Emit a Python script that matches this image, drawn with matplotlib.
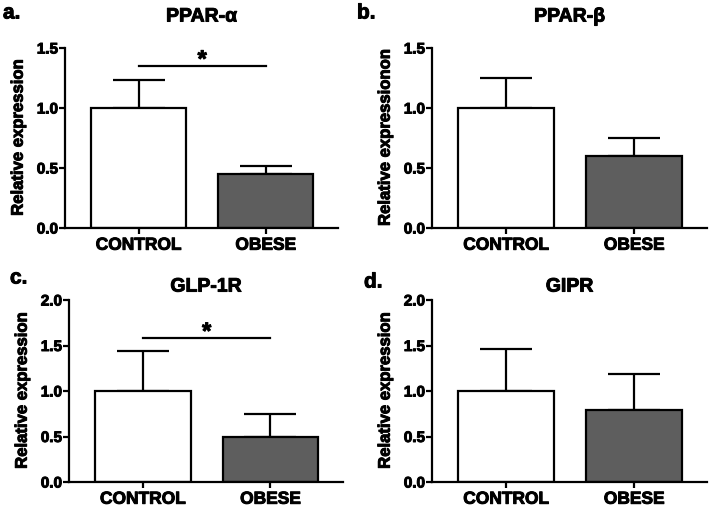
import matplotlib
matplotlib.use("Agg")
import matplotlib.pyplot as plt
import matplotlib.patheffects as pe
import numpy as np

plt.rcParams['font.family'] = ['Liberation Sans', 'DejaVu Sans']
plt.rcParams['font.weight'] = 'bold'

categories = ["CONTROL", "OBESE"]
panel_labels = ["a.", "b.", "c.", "d."]
titles = ["PPAR-α", "PPAR-β", "GLP-1R", "GIPR"]
ylabels = ["Relative expression", "Relative expressionon", "Relative expression", "Relative expression"]
means_a = [1.0, 0.45]
errs_a = [0.23, 0.07]
means_b = [1.0, 0.60]
errs_b = [0.25, 0.15]
means_c = [1.0, 0.49]
errs_c = [0.44, 0.26]
means_d = [1.0, 0.79]
errs_d = [0.46, 0.40]
ymax = [1.5, 1.5, 2.0, 2.0]
yticks = [[0, 0.5, 1.0, 1.5], [0, 0.5, 1.0, 1.5], [0, 0.5, 1.0, 1.5, 2.0], [0, 0.5, 1.0, 1.5, 2.0]]
sig = [True, False, True, False]
sig_level = [1.35, None, 1.58, None]

bar_colors = ["white", "#5e5e5e"]
heavy = [pe.withStroke(linewidth=0.7, foreground="black")]

fig = plt.figure(figsize=(7.09, 5.07), dpi=100)
W, H = 709, 507
boxes = [(65, 338, 48, 228), (432, 707, 48, 228), (69, 343, 300, 482), (432, 707, 300, 482)]
title_y = [1.172, 1.172, 1.071, 1.071]
label_pos = [(3, 13), (357, 13), (10, 278), (364, 282)]

data = [(means_a, errs_a), (means_b, errs_b), (means_c, errs_c), (means_d, errs_d)]
x = np.arange(len(categories))
for i, (l, r, t, b) in enumerate(boxes):
    ax = fig.add_axes([l / W, 1 - b / H, (r - l) / W, (b - t) / H])
    m, e = data[i]
    ax.bar(x, m, width=0.75, color=bar_colors, edgecolor="black", linewidth=1.6, zorder=2)
    ax.errorbar(x, m, yerr=[np.zeros(len(e)), e], fmt="none", ecolor="black",
                elinewidth=1.6, capsize=19, capthick=1.6, zorder=1)
    ax.set_xlim(-0.58, 1.57)
    ax.set_ylim(0, ymax[i])
    ax.set_yticks(yticks[i])
    ax.set_yticklabels([f"{v:.1f}" for v in yticks[i]], fontsize=11, fontweight="bold")
    ax.set_xticks(x)
    ax.set_xticklabels(categories, fontsize=12.5, fontweight="bold")
    for s in ["top", "right"]:
        ax.spines[s].set_visible(False)
    for s in ["left", "bottom"]:
        ax.spines[s].set_linewidth(1.6)
    ax.tick_params(axis="y", width=1.6, length=4, pad=1)
    ax.tick_params(axis="x", width=1.6, length=4, pad=3)
    for lab in ax.get_xticklabels() + ax.get_yticklabels():
        lab.set_path_effects(heavy)
    yl = ax.set_ylabel(ylabels[i], fontsize=12, fontweight="bold", labelpad=8)
    yl.set_path_effects(heavy)
    ax.text(0.5, title_y[i], titles[i], transform=ax.transAxes, ha="center", va="center",
            fontsize=14, fontweight="bold", path_effects=heavy)
    if sig[i]:
        ax.plot([x[0], x[1]], [sig_level[i], sig_level[i]], color="black", lw=1.6, clip_on=False)
        ax.annotate("*", xy=((x[0] + x[1]) / 2, sig_level[i]), xytext=(0, -4),
                    textcoords="offset points", ha="center", va="bottom",
                    fontsize=17, fontweight="bold", path_effects=heavy)
    fig.text(label_pos[i][0] / W, 1 - label_pos[i][1] / H, panel_labels[i], ha="left",
             va="center", fontsize=15, fontweight="bold", path_effects=heavy)

fig.savefig("out.png", dpi=100)
